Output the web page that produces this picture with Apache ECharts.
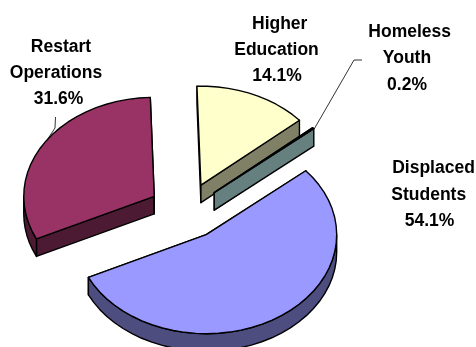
<!DOCTYPE html>
<html>
<head>
<meta charset="utf-8">
<style>html,body{margin:0;padding:0;background:#fff}#chart{width:476px;height:347px}</style>
<script src="https://cdn.jsdelivr.net/npm/echarts@6/dist/echarts.min.js"></script>
</head>
<body>
<div id="chart"></div>
<script>
// Budget shares, clockwise, in painting order (back slices first)
const categories = ['Restart Operations', 'Higher Education', 'Homeless Youth', 'Displaced Students'];
const labelLines = [['Restart', 'Operations'], ['Higher', 'Education'], ['Homeless', 'Youth'], ['Displaced', 'Students']];
const shares = [31.6, 14.1, 0.2, 54.1];
const topColors = ['#993366', '#FFFFCC', '#CCFFFF', '#9999FF'];
const sideColors = ['#4D1A33', '#808066', '#668080', '#4D4D80'];

// Tilted-pie projection
const pie = { cx: 186, cy: 211, rx: 130.5, ry: 99, depth: 17.5, explode: 0.285, start: 244.5 };
// Centre of each text line, per slice
const labelX = [[61, 56, 58.5], [279.7, 276.5, 277], [409.7, 407, 407], [433.5, 428.7, 429.5]];
const labelY = [[47, 73, 99], [24, 50, 76], [32, 58, 85], [168, 195, 221]];
const leaders = [
  { slice: 0, angle: 305, points: [[55, 128], [55.5, 117]] },
  { slice: 2, angle: 50, points: [[354, 60], [362, 60]] },
];

const total = shares.reduce((a, b) => a + b, 0);
const spans = shares.map(v => v / total * 360);
const starts = spans.map((_, i) => pie.start + spans.slice(0, i).reduce((a, b) => a + b, 0));

function rim(center, deg) {
  const t = deg * Math.PI / 180;
  return [center[0] + pie.rx * Math.sin(t), center[1] - pie.ry * Math.cos(t)];
}
function arc(center, a, b) {
  const pts = [];
  const n = Math.max(1, Math.ceil((b - a) / 5));
  for (let k = 0; k <= n; k++) pts.push(rim(center, a + (b - a) * k / n));
  return pts;
}
const down = p => [p[0], p[1] + pie.depth];
const stroke = { stroke: '#000', lineWidth: 1.4, lineJoin: 'round' };

function drawSlice(params, api) {
  const i = params.dataIndex;
  const a = starts[i], b = a + spans[i], mid = (a + b) / 2;
  const t = mid * Math.PI / 180;
  const c = [
    pie.cx + pie.explode * pie.rx * Math.sin(t),
    pie.cy - pie.explode * pie.ry * Math.cos(t),
  ];
  const poly = (points, fill) => ({
    type: 'polygon', shape: { points },
    style: Object.assign({ fill }, stroke), silent: true,
  });
  const children = [];
  const side = sideColors[i];

  // Cut faces, extruded downward
  [a, b].forEach(d => {
    const e = rim(c, d);
    children.push(poly([c, e, down(e), down(c)], side));
  });
  // Outer wall: only the part of the rim on the near half of the ellipse
  const ranges = [[90, 270], [450, 630]];
  ranges.forEach(([lo, hi]) => {
    const from = Math.max(a, lo), to = Math.min(b, hi);
    if (to > from) {
      const top = arc(c, from, to);
      children.push(poly(top.concat(top.map(down).reverse()), side));
    }
  });
  // Top surface
  children.push(poly([c].concat(arc(c, a, b)), topColors[i]));

  // Leader line from the rim up to the text
  leaders.filter(l => l.slice === i).forEach(l => {
    children.push({
      type: 'polyline', silent: true,
      shape: { points: [rim(c, l.angle)].concat(l.points) },
      style: { stroke: '#000', lineWidth: 0.8, fill: null },
    });
  });

  // Category name with its share underneath
  labelLines[i].concat(api.value(0).toFixed(1) + '%').forEach((text, k) => {
    children.push({
      type: 'text', silent: true, z2: 10,
      x: labelX[i][k], y: labelY[i][k],
      style: {
        text, fill: '#000', align: 'center', verticalAlign: 'middle',
        fontFamily: '"Liberation Sans", Arial, sans-serif',
        fontWeight: 'bold', fontSize: 17.5,
      },
    });
  });
  return { type: 'group', children };
}

const chart = echarts.init(document.getElementById('chart'), null, { renderer: 'canvas' });
chart.setOption({
  backgroundColor: '#fff',
  animation: false,
  series: [{
    type: 'custom',
    coordinateSystem: 'none',
    renderItem: drawSlice,
    clip: false,
    data: categories.map((name, i) => ({ name, value: [shares[i]] })),
  }],
});
</script>
</body>
</html>
